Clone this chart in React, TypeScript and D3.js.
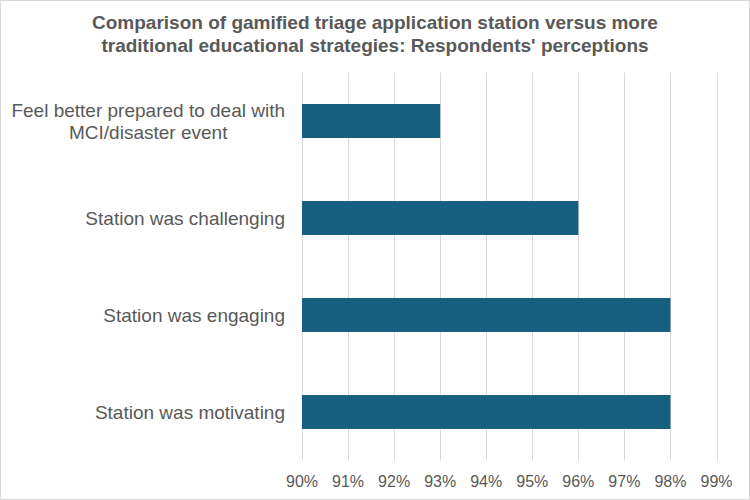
import React, { useEffect, useRef } from 'react';
import * as d3 from 'd3';

const titleLines = [
  'Comparison of gamified triage application station versus more',
  "traditional educational strategies: Respondents' perceptions",
];
const categories = [
  'Feel better prepared to deal with\nMCI/disaster event',
  'Station was challenging',
  'Station was engaging',
  'Station was motivating',
];
const values = [93, 96, 98, 98];
const tickValues = [90, 91, 92, 93, 94, 95, 96, 97, 98, 99];

const App: React.FC = () => {
  const svgRef = useRef<SVGSVGElement>(null);

  useEffect(() => {
    if (!svgRef.current) return;
    document.body.style.margin = '0';
    const svg = d3.select(svgRef.current);
    svg.selectAll('*').remove();

    const width = 750;
    const height = 500;
    const left = 302;
    const right = 716.5;
    const top = 72.5;
    const bottom = 460.5;
    const textColor = '#595959';
    const font = '"Liberation Sans", Arial, sans-serif';

    // outer border
    svg.append('rect')
      .attr('x', 0.5).attr('y', 0.5)
      .attr('width', width - 1).attr('height', height - 1)
      .attr('fill', '#fff')
      .attr('stroke', '#d9d9d9');

    const x = d3.scaleLinear().domain([90, 99]).range([left, right]);
    const y = d3.scaleBand<string>()
      .domain(categories)
      .range([top, bottom])
      .paddingInner(0.65)
      .paddingOuter(0.325);

    // gridlines
    svg.append('g')
      .selectAll('line')
      .data(tickValues)
      .join('line')
      .attr('x1', d => Math.round(x(d)) + 0.5)
      .attr('x2', d => Math.round(x(d)) + 0.5)
      .attr('y1', top)
      .attr('y2', bottom)
      .attr('stroke', '#d9d9d9')
      .attr('stroke-width', 1);

    // bars
    svg.append('g')
      .selectAll('rect')
      .data(values)
      .join('rect')
      .attr('x', x(90))
      .attr('y', (d, i) => y(categories[i])!)
      .attr('width', d => x(d) - x(90))
      .attr('height', y.bandwidth())
      .attr('fill', '#175f80');

    // tick labels
    svg.append('g')
      .selectAll('text')
      .data(tickValues)
      .join('text')
      .attr('x', d => x(d))
      .attr('y', 487)
      .attr('text-anchor', 'middle')
      .style('font-family', font)
      .style('font-size', '16px')
      .style('fill', textColor)
      .text(d => `${d}%`);

    // category labels
    const labelRight = 285;
    categories.forEach(cat => {
      const lines = cat.split('\n');
      const cy = y(cat)! + y.bandwidth() / 2;
      const lineH = 22;
      const g = svg.append('text')
        .style('font-family', font)
        .style('font-size', '19px')
        .style('fill', textColor)
        .attr('text-anchor', 'middle');
      const spans = lines.map((l, i) =>
        g.append('tspan')
          .attr('y', cy + (i - (lines.length - 1) / 2) * lineH)
          .attr('dy', '0.35em')
          .text(l));
      const maxW = d3.max(spans, s => (s.node() as SVGTSpanElement).getComputedTextLength()) || 0;
      spans.forEach(s => s.attr('x', labelRight - maxW / 2));
    });

    // title
    svg.append('text')
      .attr('text-anchor', 'middle')
      .style('font-family', font)
      .style('font-size', '19px')
      .style('font-weight', 'bold')
      .style('fill', textColor)
      .selectAll('tspan')
      .data(titleLines)
      .join('tspan')
      .attr('x', width / 2)
      .attr('y', (d, i) => 22 + i * 23)
      .attr('dy', '0.35em')
      .text(d => d);
  }, []);

  return <svg ref={svgRef} width={750} height={500} style={{ display: 'block' }} />;
};

export default App;
